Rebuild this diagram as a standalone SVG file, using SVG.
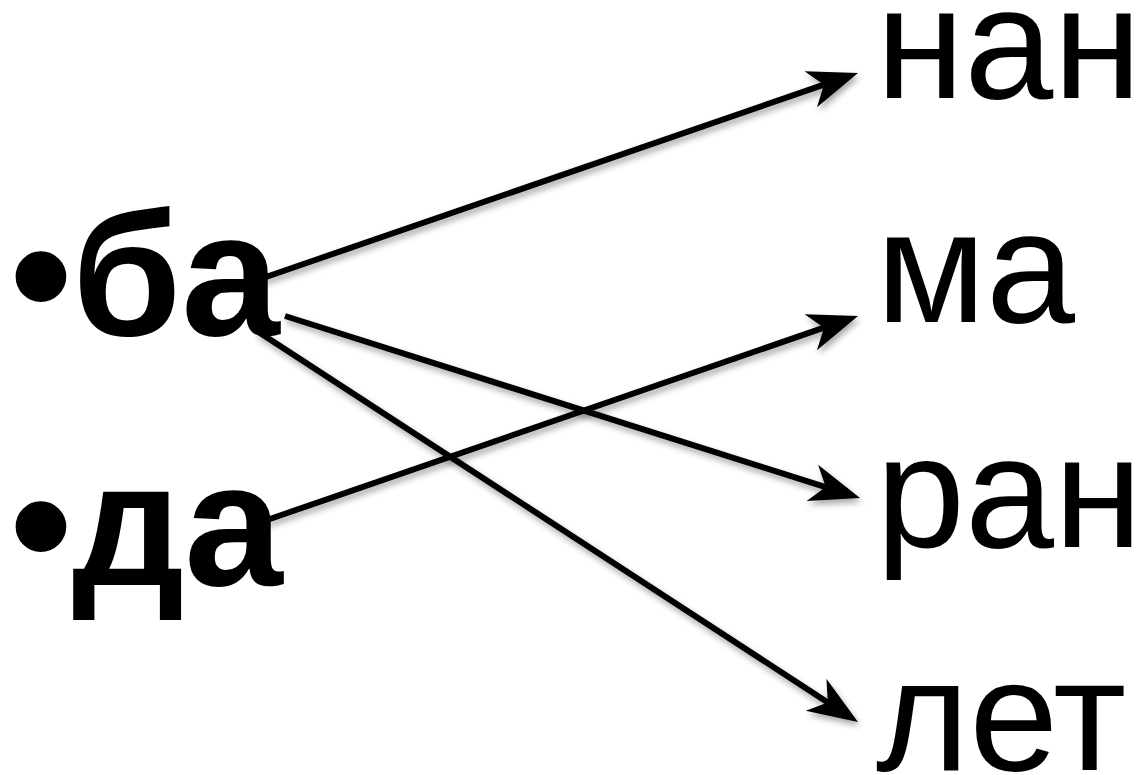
<svg xmlns="http://www.w3.org/2000/svg" width="1142" height="775" viewBox="0 0 1142 775">
<style>
.lt{font-family:"Liberation Sans",Arial,sans-serif;font-weight:bold;font-size:177px;fill:#000}
.rt{font-family:"Liberation Sans",Arial,sans-serif;font-size:160px;fill:#000}
.ln{stroke:#000;stroke-width:6;fill:none;marker-end:url(#ah);filter:url(#sh)}
</style>
<defs>
<marker id="ah" markerUnits="userSpaceOnUse" viewBox="-16 -21 54 42" markerWidth="54" markerHeight="42" refX="0" refY="0" orient="auto">
<path d="M36,0 L-14,-19 L0,0 L-14,19 Z" fill="#000"/>
</marker>
<filter id="sh" x="-10%" y="-20%" width="120%" height="140%">
<feDropShadow dx="2" dy="4" stdDeviation="3" flood-color="#000" flood-opacity="0.35"/>
</filter>
</defs>
<rect width="1142" height="775" fill="#fff"/>
<g id="ba"><text class="lt" x="10" y="335">•ба</text></g>
<g id="da"><text class="lt" x="10" y="585">•да</text></g>
<g id="nan"><text class="rt" x="876" y="98">нан</text></g>
<g id="ma"><text class="rt" x="876" y="322">ма</text></g>
<g id="ran"><text class="rt" x="876" y="547">ран</text></g>
<g id="let"><text class="rt" x="876" y="770">лет</text></g>
<g id="connectors">
<line class="ln" x1="263" y1="278" x2="824" y2="84.7"/>
<line class="ln" x1="285" y1="316" x2="825.7" y2="487.1"/>
<line class="ln" x1="257" y1="331" x2="827.8" y2="702.4"/>
<line class="ln" x1="267" y1="520" x2="824" y2="327.7"/>
</g>
</svg>
